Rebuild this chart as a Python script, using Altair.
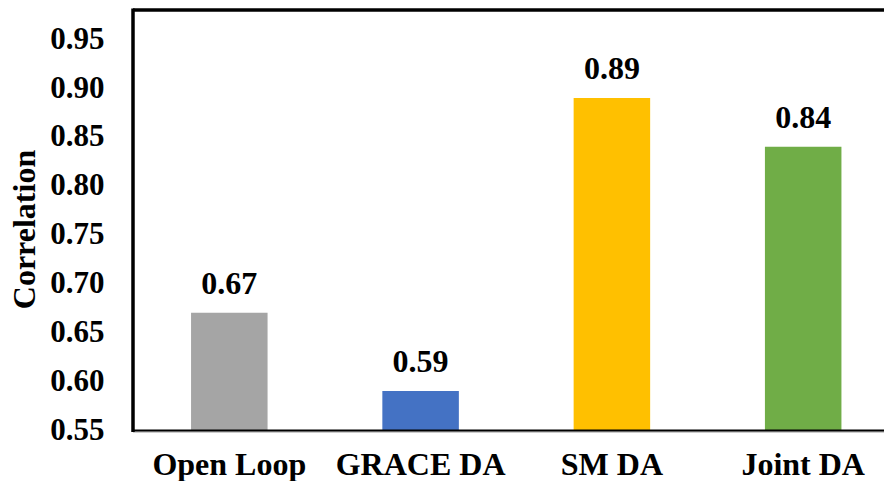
import altair as alt
import pandas as pd

categories = ["Open Loop", "GRACE DA", "SM DA", "Joint DA"]
values = [0.67, 0.59, 0.89, 0.84]
colors = ["#A5A5A5", "#4472C4", "#FFC000", "#70AD47"]
y_ticks = [0.55, 0.60, 0.65, 0.70, 0.75, 0.80, 0.85, 0.90, 0.95]

df = pd.DataFrame({"cat": categories, "val": values})
FONT = "Liberation Serif"
W, H = 751, 420

x = alt.X(
    "cat:N", sort=categories,
    scale=alt.Scale(paddingInner=0.6, paddingOuter=0.263, align=0.577),
    axis=alt.Axis(title=None, labelAngle=0, domain=False, ticks=False, tickSize=0,
                  labelPadding=44, labelBaseline="alphabetic", labelFont=FONT,
                  labelFontSize=32, labelFontWeight="bold", labelColor="black"),
)
y = alt.Y(
    "val:Q",
    scale=alt.Scale(domain=[0.55, 0.98], nice=False, zero=False),
    axis=alt.Axis(values=y_ticks, format=".2f", grid=False, domain=False, ticks=False,
                  tickSize=0, labelPadding=29, labelFont=FONT, labelFontSize=31,
                  labelFontWeight="bold", labelColor="black",
                  title="Correlation", titleFont=FONT, titleFontSize=32,
                  titleFontWeight="bold", titleColor="black", titleAngle=270,
                  titleX=-109, titleY=219, titleAlign="center", titleBaseline="middle"),
)

base = alt.Chart(df)
bars = base.mark_bar().encode(
    x=x, y=y, y2=alt.datum(0.55),
    color=alt.Color("cat:N", scale=alt.Scale(domain=categories, range=colors), legend=None),
)
labels = base.mark_text(dy=-19, baseline="alphabetic", font=FONT, fontSize=32,
                        fontWeight="bold", color="black").encode(
    x=alt.X("cat:N", sort=categories), y=alt.Y("val:Q"),
    text=alt.Text("val:Q", format=".2f"),
)

one = alt.Chart(pd.DataFrame({"a": [0]}))
top_line = one.mark_rule(color="black", strokeWidth=3.5).encode(
    x=alt.value(0), x2=alt.value(W + 10), y=alt.value(0))
left_line = one.mark_rule(color="black", strokeWidth=3.5).encode(
    x=alt.value(0), y=alt.value(-1.5), y2=alt.value(H + 2))
bottom_line = one.mark_rule(color="black", strokeWidth=2).encode(
    x=alt.value(0), x2=alt.value(W + 10), y=alt.value(H + 0.5))
bottom_line2 = one.mark_rule(color="#9a9a9a", strokeWidth=1).encode(
    x=alt.value(0), x2=alt.value(W + 10), y=alt.value(H + 2))

chart = alt.layer(bars, labels, bottom_line2, bottom_line, top_line, left_line).properties(
    width=W, height=H,
    autosize=alt.AutoSizeParams(type="none"),
    padding={"left": 125, "top": 2, "right": 0, "bottom": 51},
).configure_view(stroke=None).configure(background="white")

chart.save("out.html", embed_options={"renderer": "svg", "actions": False})
